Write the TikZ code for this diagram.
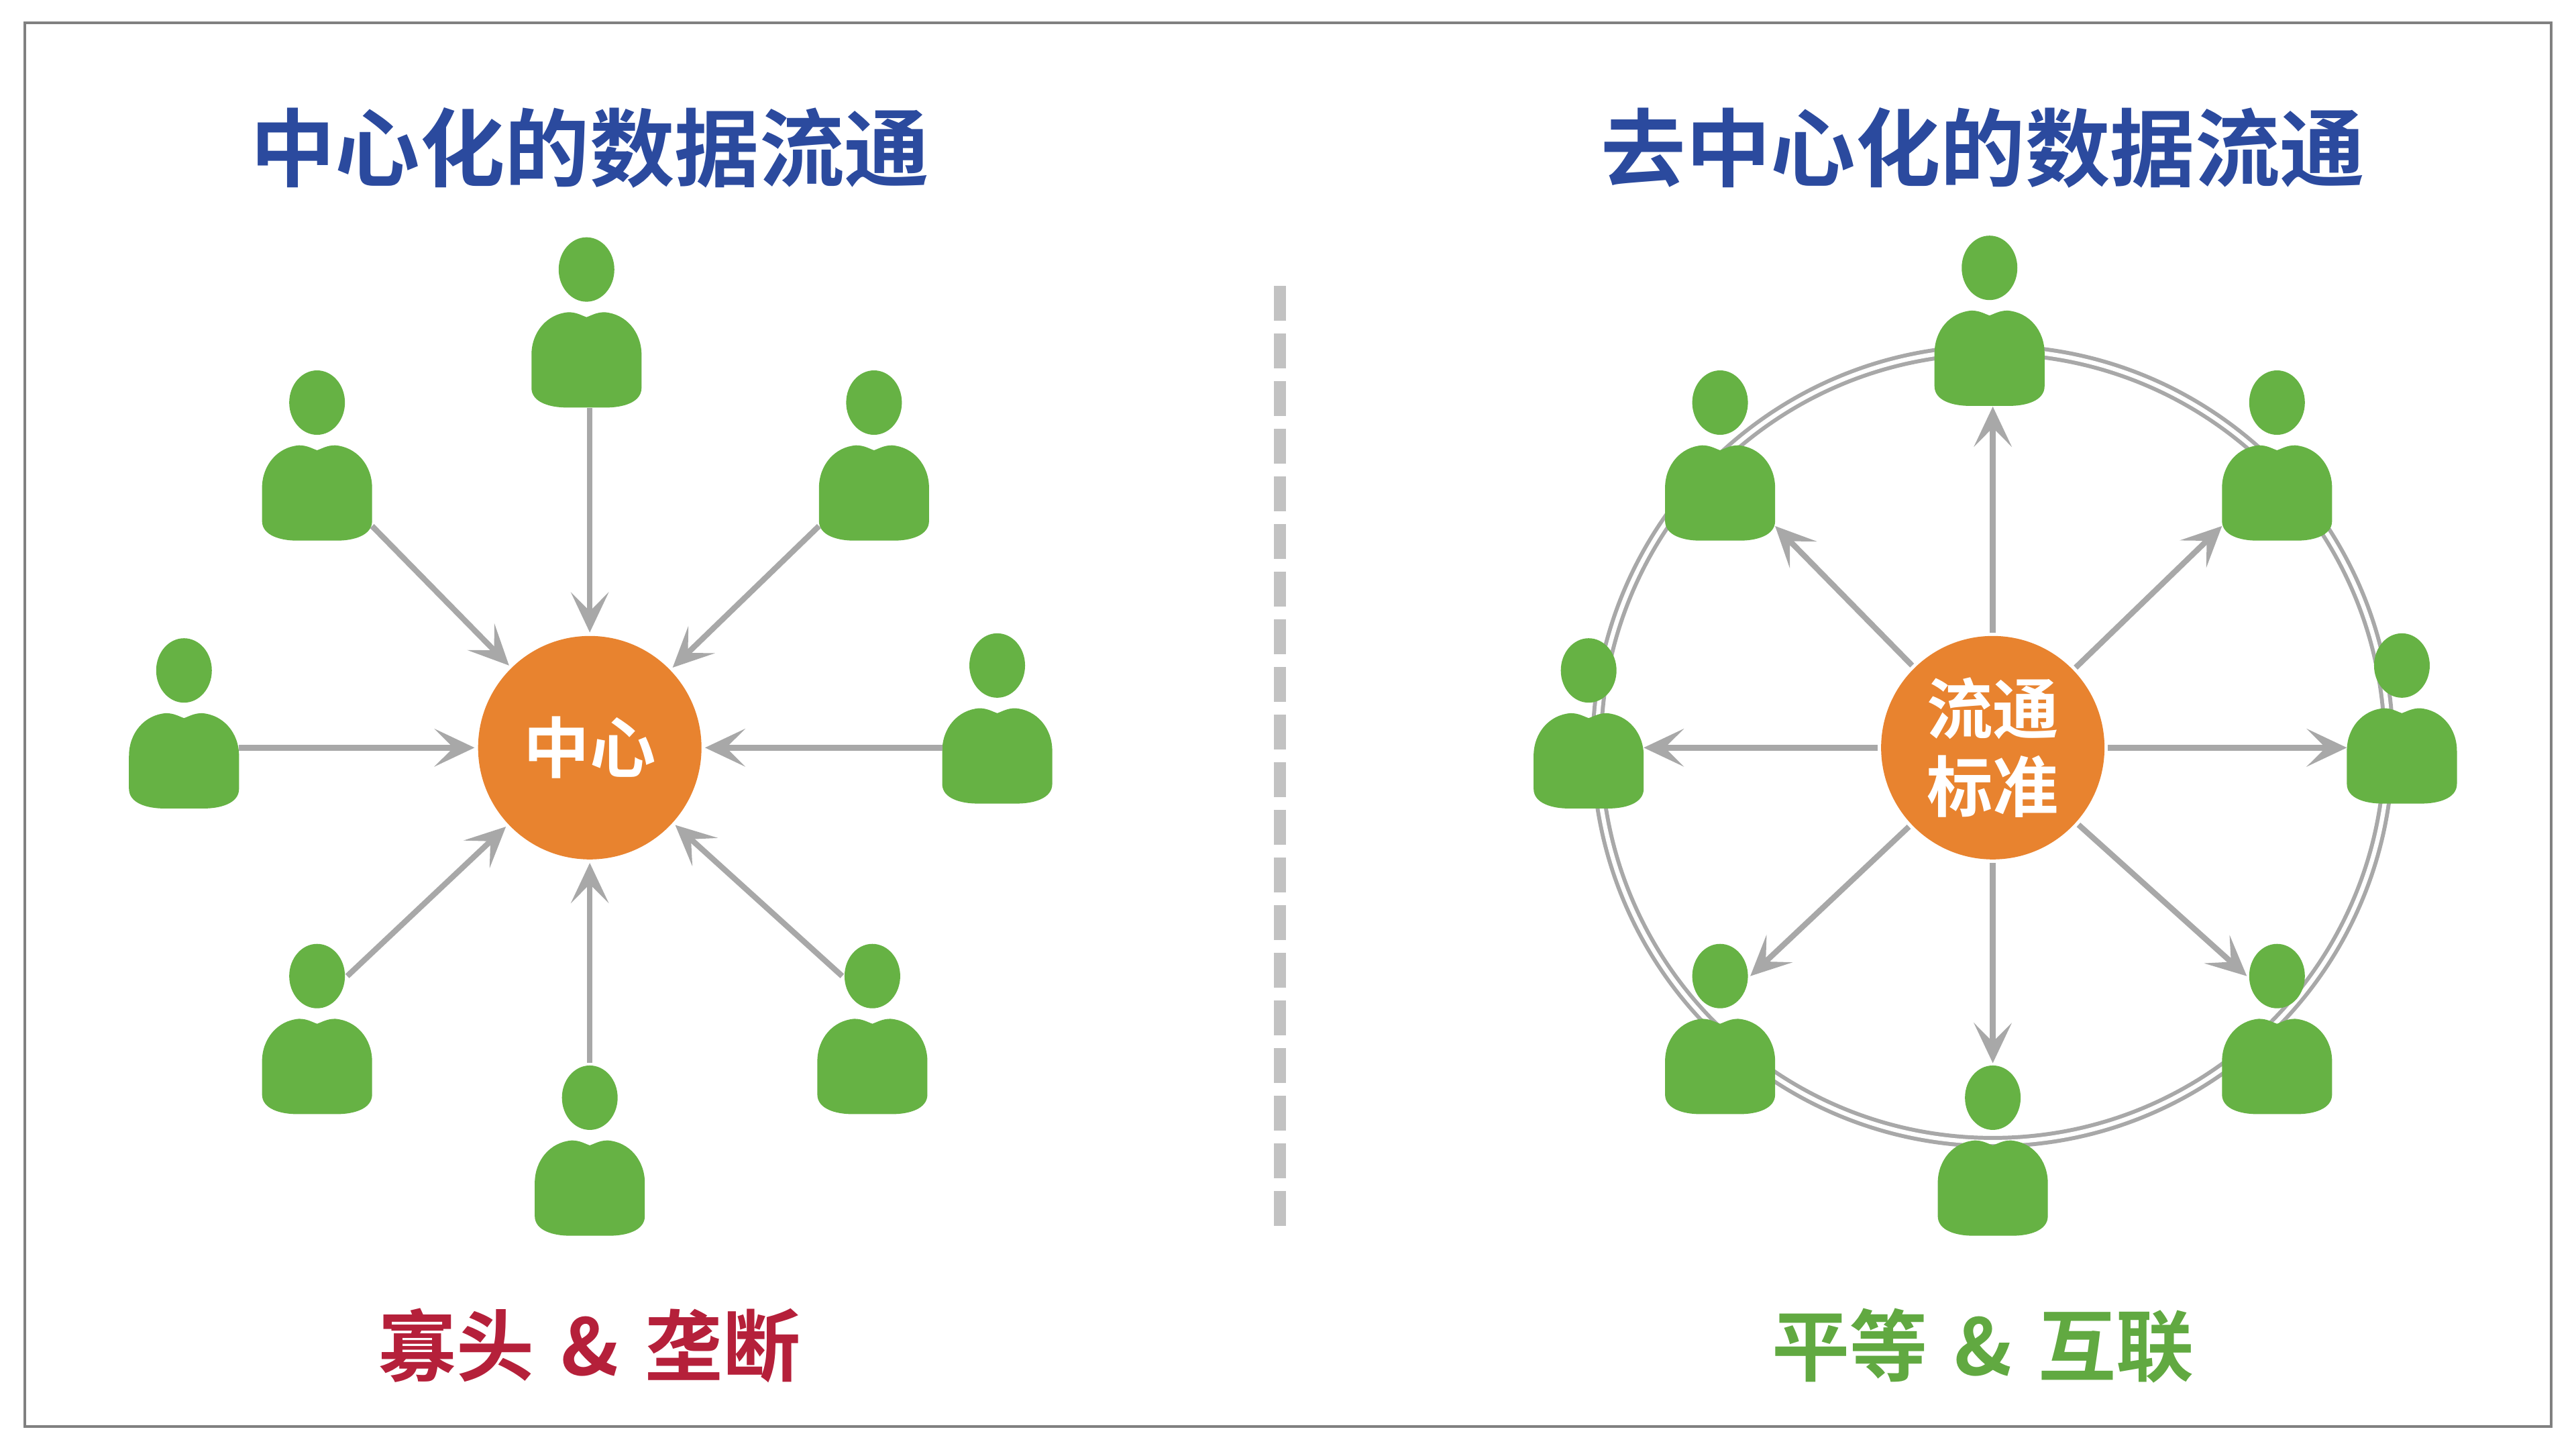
\documentclass[tikz,border=0pt]{standalone}
\usepackage{fontspec}
\usepackage{xcolor}
\usetikzlibrary{arrows.meta, shapes.geometric}
\setmainfont{Noto Sans CJK SC}[BoldFont={Noto Sans CJK SC Bold}]
\definecolor{titleblue}{HTML}{2B4A9E}
\definecolor{monored}{HTML}{B5203A}
\definecolor{peergreen}{HTML}{66B244}
\definecolor{hubfill}{HTML}{E8832F}
\definecolor{flowgray}{HTML}{A8A8A8}
\tikzset{
  heading/.style = {font=\bfseries\fontsize{36}{40}\selectfont, text=titleblue},
  slogan/.style = {font=\bfseries\fontsize{33}{36}\selectfont},
  hub/.style = {circle, fill=hubfill, minimum size=3.33cm, inner sep=0pt, outer sep=1.5pt, text=white, align=center,
    font=\bfseries\fontsize{28}{33}\selectfont},
  head/.style = {ellipse, fill=peergreen, minimum width=.83cm, minimum height=.96cm, inner sep=0pt, outer sep=1pt},
  torso/.style = {rectangle, minimum width=1.64cm, minimum height=1.44cm, inner sep=0pt, outer sep=0pt},
  flow/.style = {-{Stealth[length=17pt, width=16pt, inset=8pt]}, line width=2.4pt, draw=flowgray}
}
% one person: head and torso nodes, #1 = name, head centre at (#2,#3)
\newcommand{\person}[3]{
  \node[head] (#1h) at (#2,#3) {};
  \node[torso] (#1) at (#2,#3+55) {};
  \fill[peergreen, shift={(#2,#3)}] (0,29) .. controls (-3,28) and (-6,26) .. (-11,26)
    .. controls (-24,27) and (-33.5,38) .. (-33.5,52) -- (-33.5,72)
    .. controls (-33.5,81) and (-22,84) .. (-12,84) -- (12,84)
    .. controls (22,84) and (33.5,81) .. (33.5,72) -- (33.5,52)
    .. controls (33.5,38) and (24,27) .. (11,26) .. controls (6,26) and (3,28) .. (0,29) -- cycle;
}
\begin{document}
\begin{tikzpicture}[x=0.02449cm, y=-0.02449cm]
\useasboundingbox (0,0) rectangle (1568,882);
\fill[white] (0,0) rectangle (1568,882);

% frame and divider
\draw[line width=1.2pt, draw=gray] (15,14) rectangle (1553,868);
\coordinate (divtop) at (779,174);
\coordinate (divbot) at (779,749);
\draw[line width=5pt, draw=black!24, dash pattern=on 14.8pt off 5.4pt] (divtop) -- (divbot);

% titles
\node[heading] (titleleft) at (359,90) {中心化的数据流通};
\node[heading] (titleright) at (1207,90) {去中心化的数据流通};
\node[slogan, text=monored] (sloganleft) at (359,819) {寡头\hspace{3.8pt} \& \hspace{3.8pt}垄断};
\node[slogan, text=peergreen!95!black] (sloganright) at (1207,819) {平等\hspace{3.8pt} \& \hspace{3.8pt}互联};

% hubs
\node[hub] (center) at (359,455) {中心};
\node[hub] (standard) at (1213,455) {流通\\标准};

% ring behind the right group
\draw[line width=1.7pt, draw=flowgray, double=white, double distance=1.8pt] (1213,454) circle (241);

% left group
\person{lt}{357}{164}
\person{lul}{193}{245}
\person{lur}{532}{245}
\person{ll}{112}{408}
\person{lr}{607}{405}
\person{lbl}{193}{594}
\person{lbr}{531}{594}
\person{lb}{359}{668}

% right group
\person{rt}{1211}{163}
\person{rul}{1047}{245}
\person{rur}{1386}{245}
\person{rl}{967}{408}
\person{rr}{1462}{405}
\person{rbl}{1047}{594}
\person{rbr}{1386}{594}
\person{rb}{1213}{668}

% arrows into the center
\draw[flow] (center |- lt.south) -- (center);
\draw[flow] (lul.-31) -- (center);
\draw[flow] (lur.-149) -- (center);
\draw[flow] (ll.east |- center) -- (center);
\draw[flow] (lr.west |- center) -- (center);
\draw[flow] (lblh.east) -- (center);
\draw[flow] (lbrh.west) -- (center);
\draw[flow] (center |- lbh.north) -- (center);

% arrows out of the standard
\draw[flow] (standard) -- (standard |- rt.south);
\draw[flow] (standard) -- (rul.-31);
\draw[flow] (standard) -- (rur.-149);
\draw[flow] (standard) -- (rl.east |- standard);
\draw[flow] (standard) -- (rr.west |- standard);
\draw[flow] (standard) -- (rblh.east);
\draw[flow] (standard) -- (rbrh.west);
\draw[flow] (standard) -- (rbh.north);
\end{tikzpicture}
\end{document}
